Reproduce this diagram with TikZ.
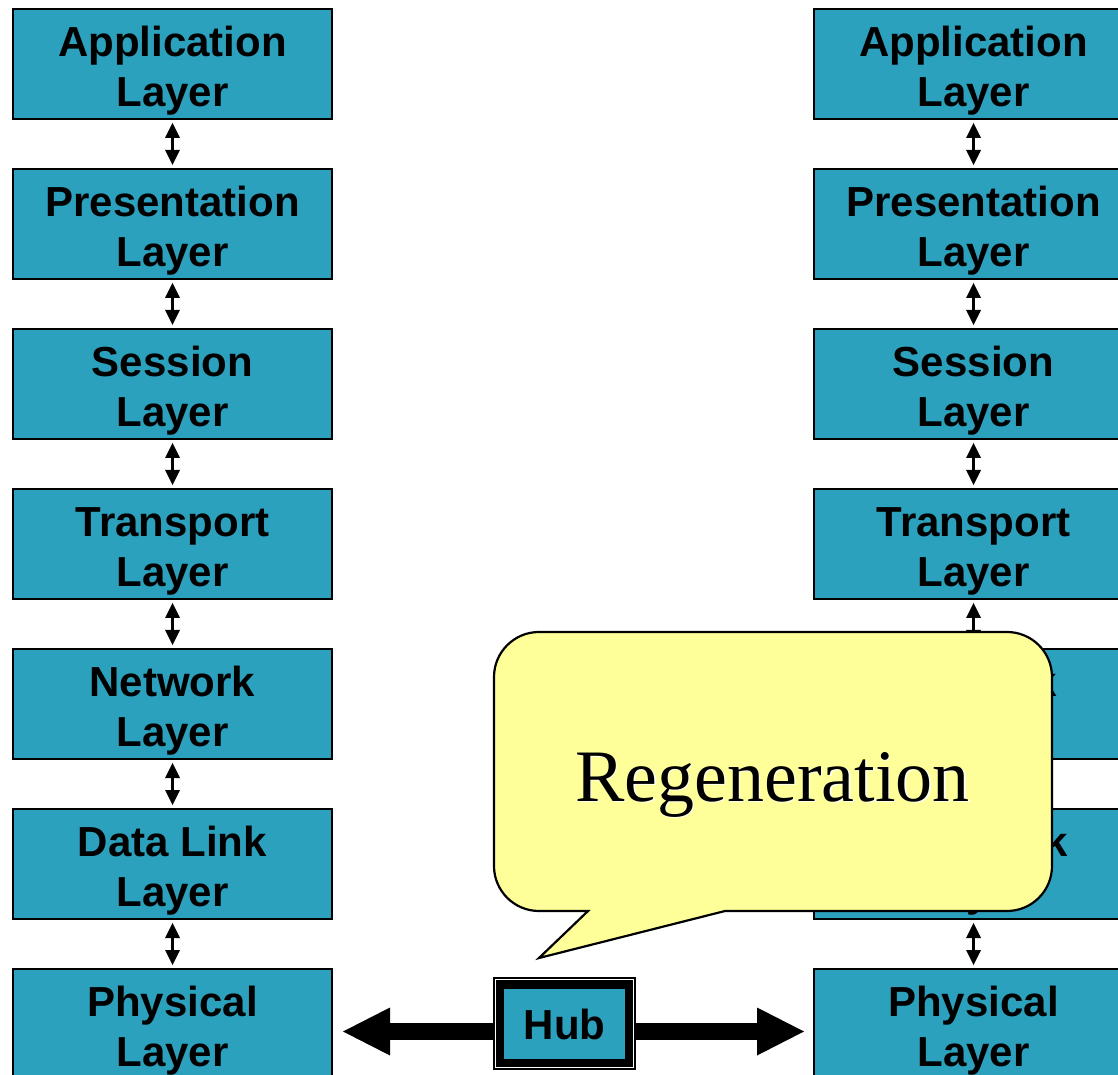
\documentclass[tikz,border=0pt]{standalone}
\usepackage{fontspec}
\newfontfamily\boxfont{Liberation Sans}
\newfontfamily\noteserif{Liberation Serif}
\usetikzlibrary{arrows.meta}
\definecolor{layerteal}{RGB}{44,161,190}
\definecolor{noteyellow}{RGB}{255,255,153}
% first line of a layer label gets a taller strut so the two lines sit a bit lower
\newcommand{\layertext}[1]{\rule{0pt}{43pt}#1\\Layer}
\begin{document}
\begin{tikzpicture}[x=1pt,y=1pt,
  layerbox/.style={draw=black, line width=2pt, fill=layerteal,
    minimum width=319pt, minimum height=110pt, inner sep=0pt, align=center,
    font=\boxfont\bfseries\fontsize{42}{50}\selectfont},
  link/.style={line width=2.2pt,
    {Triangle[length=15pt,width=15pt,line width=0pt]}-{Triangle[length=15pt,width=15pt,line width=0pt]},
    shorten <=3pt, shorten >=3pt},
  bigarrow/.style={line width=17pt, -{Triangle[length=47pt,width=48pt,line width=0pt]}},
  hubframe/.style={draw=black, line width=1pt, fill=black, minimum width=142pt,
    minimum height=92pt, inner sep=0pt, outer sep=0pt},
  hubcore/.style={fill=layerteal, minimum width=121pt, minimum height=70pt, inner sep=0pt,
    font=\boxfont\bfseries\fontsize{42}{50}\selectfont},
  callout/.style={draw=black, line width=2.2pt, fill=noteyellow, line join=miter}
]
\useasboundingbox (0,0) rectangle (1118,1074);
\clip (0,0) rectangle (1118,1074);

% the two protocol stacks
\foreach \i/\t in {0/Application,1/Presentation,2/Session,3/Transport,4/Network,5/Data Link,6/Physical} {
  \node[layerbox] (L\i) at (172.5,1010-160*\i) {\layertext{\t}};
  \node[layerbox] (R\i) at (973.5,1010-160*\i) {\layertext{\t}};
}

% links between adjacent layers
\foreach \i in {0,...,5} {
  \pgfmathtruncatemacro{\j}{\i+1}
  \draw[link] (L\i.south) -- (L\j.north);
  \draw[link] (R\i.south) -- (R\j.north);
}

% hub between the physical layers
\node[hubframe] (hub) at (564.5,50.5) {};
\draw[white, line width=1.3pt] ([shift={(2pt,2pt)}]hub.south west) rectangle ([shift={(-2pt,-2pt)}]hub.north east);
\node[hubcore] (hubin) at (564.5,50) {Hub};

\coordinate (hwest) at ([yshift=-8pt]hub.west);
\coordinate (heast) at ([yshift=-8pt]hub.east);
\draw[bigarrow, shorten >=10pt] (hwest) -- (hwest -| L6.east);
\draw[bigarrow, shorten >=9pt] (heast) -- (heast -| R6.west);

% speech bubble pointing at the hub
\draw[callout] (588,163) -- (539,116) -- (725,163) -- (1007,163)
  arc[start angle=-90, end angle=0, radius=45] -- (1052,397)
  arc[start angle=0, end angle=90, radius=45] -- (539,442)
  arc[start angle=90, end angle=180, radius=45] -- (494,208)
  arc[start angle=180, end angle=270, radius=45] -- cycle;
\node[anchor=base, inner sep=0pt, text=white, opacity=0.85,
  font=\noteserif\fontsize{74}{80}\selectfont] (glow) at (774,271.5) {Regeneration};
\node[anchor=base, inner sep=0pt, text=black,
  font=\noteserif\fontsize{74}{80}\selectfont] (note) at (772.5,273) {Regeneration};
\end{tikzpicture}
\end{document}
